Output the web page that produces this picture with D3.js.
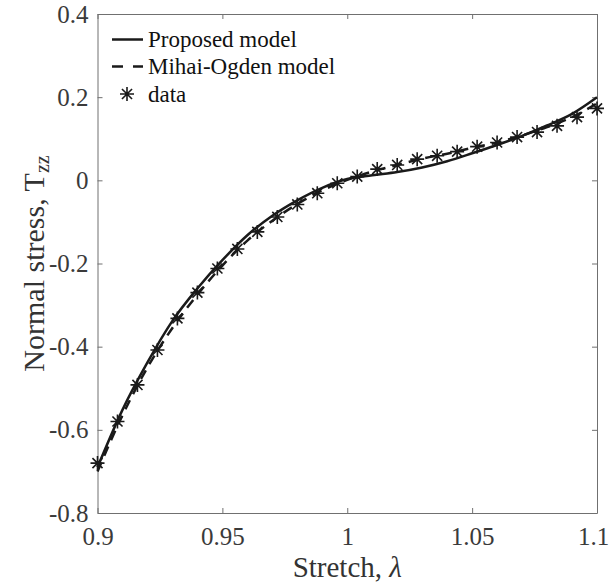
<!DOCTYPE html>
<html>
<head>
<meta charset="utf-8">
<script src="https://cdn.jsdelivr.net/npm/d3@7"></script>
<style>
  body { margin: 0; background: #fff; }
  text { font-family: "Liberation Serif", "DejaVu Serif", serif; }
</style>
</head>
<body>
<div id="chart"></div>
<script>
// Data
var model_lambda   = [0.90,0.91,0.92,0.93,0.94,0.95,0.96,0.97,0.98,0.99,1.00,
                      1.01,1.02,1.03,1.04,1.05,1.06,1.07,1.08,1.09,1.10];
var proposed_vals  = [-0.690,-0.552,-0.438,-0.338,-0.260,-0.192,-0.132,-0.085,-0.048,-0.018,0.003,
                      0.012,0.020,0.031,0.046,0.065,0.085,0.107,0.132,0.160,0.200];
var ogden_vals     = [-0.700,-0.565,-0.450,-0.355,-0.275,-0.205,-0.145,-0.097,-0.057,-0.024,0.001,
                      0.021,0.037,0.052,0.064,0.078,0.091,0.108,0.128,0.152,0.185];
var data_lambda    = [0.900,0.908,0.916,0.924,0.932,0.940,0.948,0.956,0.964,0.972,0.980,0.988,0.996,
                      1.004,1.012,1.020,1.028,1.036,1.044,1.052,1.060,1.068,1.076,1.084,1.092,1.100];
var data_stress    = [-0.680,-0.580,-0.492,-0.408,-0.332,-0.270,-0.212,-0.165,-0.124,-0.088,-0.058,-0.031,-0.007,
                      0.009,0.027,0.037,0.051,0.059,0.069,0.081,0.091,0.104,0.116,0.131,0.152,0.173];
var x_ticks        = [0.9,0.95,1,1.05,1.1];
var x_tick_labels  = ['0.9','0.95','1','1.05','1.1'];
var y_ticks        = [-0.8,-0.6,-0.4,-0.2,0,0.2,0.4];
var y_tick_labels  = ['-0.8','-0.6','-0.4','-0.2','0','0.2','0.4'];
var legend_labels  = ['Proposed model','Mihai-Ogden model','data'];

var chart_width  = 610;
var chart_height = 585;
var plot_left = 97.5, plot_right = 597, plot_top = 14, plot_bottom = 513;
var ink = '#1a1a1a';
var axis_color = '#707070';

var svg = d3.select('#chart')
    .append('svg')
    .attr('width', chart_width)
    .attr('height', chart_height);

var x_scale = d3.scaleLinear().domain([0.9, 1.1]).range([plot_left, plot_right]);
var y_scale = d3.scaleLinear().domain([-0.8, 0.4]).range([plot_bottom, plot_top]);

// Axes (ticks point inward, box on all four sides)
function style_axis(g, show_labels){
    g.select('.domain').attr('stroke', axis_color).attr('stroke-width', 1);
    g.selectAll('.tick line').attr('stroke', axis_color).attr('stroke-width', 1);
    g.selectAll('.tick text')
        .attr('fill', '#3a3a3a')
        .attr('font-size', 25)
        .style('font-family', '"Liberation Serif", serif');
    if(!show_labels) g.selectAll('.tick text').remove();
}

var x_axis = svg.append('g')
    .attr('transform', 'translate(0,' + plot_bottom + ')')
    .call(d3.axisBottom(x_scale).tickValues(x_ticks)
        .tickFormat(function(d, i){ return x_tick_labels[i]; })
        .tickSizeInner(-5).tickSizeOuter(0).tickPadding(14))
    .call(style_axis, true);
// last label sits against the right edge, as in the original
x_axis.selectAll('.tick text').filter(function(d, i){ return i === x_ticks.length - 1; })
    .attr('dx', -4);

svg.append('g')
    .attr('transform', 'translate(0,' + plot_top + ')')
    .call(d3.axisTop(x_scale).tickValues(x_ticks).tickSizeInner(-5).tickSizeOuter(0))
    .call(style_axis, false);

svg.append('g')
    .attr('transform', 'translate(' + plot_left + ',0)')
    .call(d3.axisLeft(y_scale).tickValues(y_ticks)
        .tickFormat(function(d, i){ return y_tick_labels[i]; })
        .tickSizeInner(-5).tickSizeOuter(0).tickPadding(9))
    .call(style_axis, true);

svg.append('g')
    .attr('transform', 'translate(' + plot_right + ',0)')
    .call(d3.axisRight(y_scale).tickValues(y_ticks).tickSizeInner(-5).tickSizeOuter(0))
    .call(style_axis, false);

// Curves
var line = d3.line()
    .x(function(d){ return x_scale(d[0]); })
    .y(function(d){ return y_scale(d[1]); })
    .curve(d3.curveMonotoneX);

svg.append('path')
    .datum(d3.zip(model_lambda, ogden_vals))
    .attr('d', line)
    .attr('fill', 'none')
    .attr('stroke', ink)
    .attr('stroke-width', 2.5)
    .attr('stroke-dasharray', '10,7');

svg.append('path')
    .datum(d3.zip(model_lambda, proposed_vals))
    .attr('d', line)
    .attr('fill', 'none')
    .attr('stroke', ink)
    .attr('stroke-width', 2.5);

// Asterisk marker (plus + cross)
var star_type = {
    draw: function(ctx, size){
        var r = Math.sqrt(size) / 2;
        var q = r * 0.72;
        ctx.moveTo(0, -r); ctx.lineTo(0, r);
        ctx.moveTo(-r, 0); ctx.lineTo(r, 0);
        ctx.moveTo(-q, -q); ctx.lineTo(q, q);
        ctx.moveTo(-q, q); ctx.lineTo(q, -q);
    }
};
var star = d3.symbol().type(star_type).size(196);

svg.selectAll('.star')
    .data(d3.zip(data_lambda, data_stress))
    .enter()
    .append('path')
    .attr('class', 'star')
    .attr('transform', function(d){ return 'translate(' + x_scale(d[0]) + ',' + y_scale(d[1]) + ')'; })
    .attr('d', star)
    .attr('fill', 'none')
    .attr('stroke', ink)
    .attr('stroke-width', 1.6);

// Legend
var legend_y = [39.5, 66.5, 94];
var legend = svg.append('g');
legend.append('line')
    .attr('x1', 112).attr('x2', 143).attr('y1', legend_y[0]).attr('y2', legend_y[0])
    .attr('stroke', ink).attr('stroke-width', 2.5);
legend.append('line')
    .attr('x1', 112).attr('x2', 143).attr('y1', legend_y[1]).attr('y2', legend_y[1])
    .attr('stroke', ink).attr('stroke-width', 2.5).attr('stroke-dasharray', '11,10');
legend.append('path')
    .attr('transform', 'translate(127,' + legend_y[2] + ')')
    .attr('d', star)
    .attr('fill', 'none').attr('stroke', ink).attr('stroke-width', 1.6);
legend.selectAll('text')
    .data(legend_labels)
    .enter()
    .append('text')
    .attr('x', 148)
    .attr('y', function(d, i){ return legend_y[i] + 7.5; })
    .attr('font-size', 23)
    .attr('fill', '#111')
    .text(function(d){ return d; });

// Axis titles
var x_title = svg.append('text')
    .attr('x', (plot_left + plot_right) / 2)
    .attr('y', 577)
    .attr('text-anchor', 'middle')
    .attr('font-size', 29)
    .attr('fill', '#333');
x_title.append('tspan').text('Stretch, ');
x_title.append('tspan').attr('font-style', 'italic').text('λ');

var y_title = svg.append('text')
    .attr('transform', 'translate(44,' + ((plot_top + plot_bottom) / 2) + ') rotate(-90)')
    .attr('text-anchor', 'middle')
    .attr('font-size', 30)
    .attr('fill', '#333');
y_title.append('tspan').text('Normal stress, T');
y_title.append('tspan').attr('font-size', 20).attr('dy', 5).text('zz');
</script>
</body>
</html>
